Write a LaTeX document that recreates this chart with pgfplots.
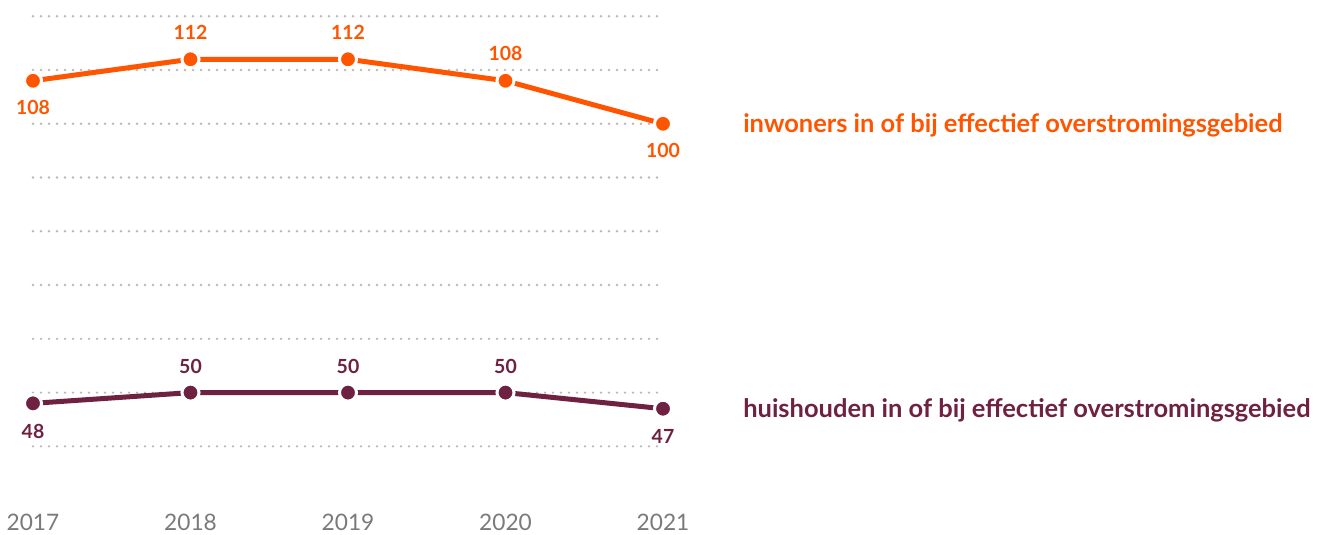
\documentclass[border=0pt]{standalone}
\usepackage{fontspec}
\setmainfont{Lato}
\usepackage{pgfplots}
\pgfplotsset{compat=1.18}
\definecolor{orng}{HTML}{FF5500}
\definecolor{mar}{HTML}{6E2140}
\definecolor{grd}{HTML}{B8B8B8}
\definecolor{yr}{HTML}{7A7A7A}
\begin{document}
\begin{tikzpicture}
\begin{axis}[
  scale only axis, width=472.5pt, height=375pt,
  xmin=2017, xmax=2021, ymin=30, ymax=123,
  clip=false,
  axis line style={draw=none},
  major tick length=0pt,
  xtick={2017,2018,2019,2020,2021},
  xticklabels={2017,2018,2019,2020,2021},
  xticklabel style={anchor=base, yshift=-22.5pt, text=yr, font=\fontsize{17}{18}\selectfont},
  ytick={40,50,...,120},
  yticklabels={},
  ymajorgrids,
  grid style={grd, line width=2pt, line cap=round, dash pattern=on 0pt off 6pt},
  nodes near coords style={font=\bfseries\fontsize{14.6}{16}\selectfont, anchor=center},
]
\addplot[orng, line width=3.75pt, mark=*, mark size=6.4pt,
  mark options={fill=orng, draw=white, line width=2.25pt}]
  coordinates {(2017,108)(2018,112)(2019,112)(2020,108)(2021,100)};
\addplot[mar, line width=3.75pt, mark=*, mark size=6.4pt,
  mark options={fill=mar, draw=white, line width=2.25pt}]
  coordinates {(2017,48)(2018,50)(2019,50)(2020,50)(2021,47)};
\addplot[draw=none, mark=none, point meta=explicit symbolic, nodes near coords,
  every node near coord/.append style={text=orng, yshift=20.25pt}]
  coordinates {(2018,112)[112] (2019,112)[112] (2020,108)[108]};
\addplot[draw=none, mark=none, point meta=explicit symbolic, nodes near coords,
  every node near coord/.append style={text=orng, yshift=-20pt}]
  coordinates {(2017,108)[108] (2021,100)[100]};
\addplot[draw=none, mark=none, point meta=explicit symbolic, nodes near coords,
  every node near coord/.append style={text=mar, yshift=19.5pt}]
  coordinates {(2018,50)[50] (2019,50)[50] (2020,50)[50]};
\addplot[draw=none, mark=none, point meta=explicit symbolic, nodes near coords,
  every node near coord/.append style={text=mar, yshift=-21pt}]
  coordinates {(2017,48)[48] (2021,47)[47]};
\node[anchor=west, text=orng, font=\bfseries\fontsize{19.1}{21}\selectfont, inner sep=0pt] at ([xshift=60pt,yshift=-1.5pt]axis cs:2021,100) {inwoners in of bij effectief overstromingsgebied};
\node[anchor=west, text=mar, font=\bfseries\fontsize{19.1}{21}\selectfont, inner sep=0pt] at ([xshift=60pt,yshift=-1.5pt]axis cs:2021,47) {huishouden in of bij effectief overstromingsgebied};
\path ([xshift=-24.75pt]axis cs:2017,123) rectangle ([xshift=496.5pt,yshift=-25.5pt]axis cs:2021,30);
\end{axis}
\end{tikzpicture}
\end{document}
